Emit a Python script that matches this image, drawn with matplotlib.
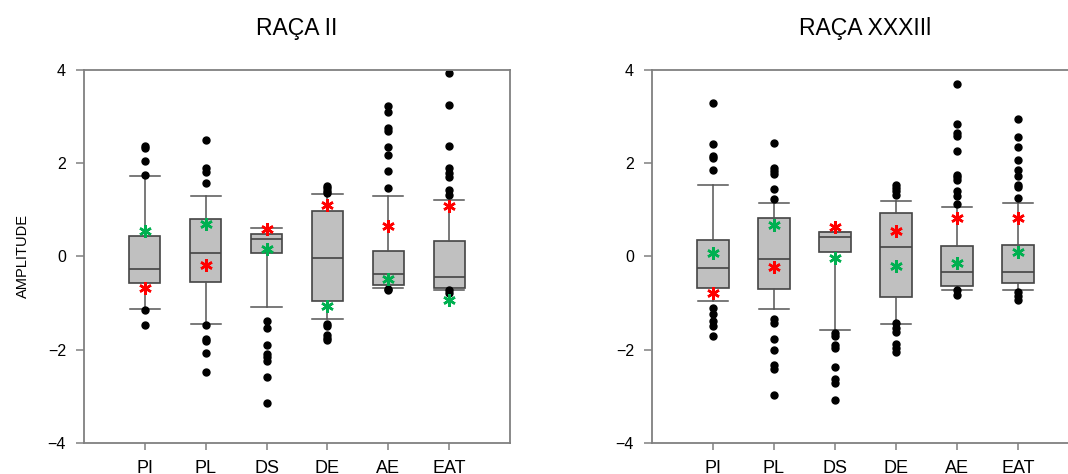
import matplotlib
matplotlib.use("Agg")
import matplotlib.pyplot as plt

plt.rcParams['font.family'] = ['Liberation Sans', 'DejaVu Sans']

categories = ['PI', 'PL', 'DS', 'DE', 'AE', 'EAT']

# RAÇA II
ii_q1 = [-0.57, -0.55, 0.06, -0.95, -0.61, -0.68]
ii_med = [-0.28, 0.06, 0.37, -0.04, -0.39, -0.44]
ii_q3 = [0.44, 0.80, 0.48, 0.96, 0.11, 0.32]
ii_whislo = [-1.14, -1.46, -1.08, -1.34, -0.68, -0.73]
ii_whishi = [1.72, 1.28, 0.60, 1.33, 1.30, 1.20]
ii_fliers = [
	[2.37, 2.32, 2.03, 1.73, -1.15, -1.48],
	[2.48, 1.88, 1.80, 1.57, -1.48, -1.77, -1.82, -2.07, -2.47],
	[-1.39, -1.53, -1.90, -2.10, -2.16, -2.25, -2.58, -3.15],
	[1.51, 1.46, 1.40, 1.35, -1.45, -1.50, -1.68, -1.75, -1.80],
	[3.21, 3.10, 2.74, 2.69, 2.35, 2.16, 1.83, 1.47, -0.70, -0.73],
	[3.93, 3.24, 2.37, 1.88, 1.78, 1.70, 1.41, 1.32, -0.73, -0.78],
]
ii_red = [-0.68, -0.19, 0.58, 1.09, 0.64, 1.08]
ii_green = [0.54, 0.70, 0.15, -1.06, -0.48, -0.94]

# RAÇA XXXIII
xxxiii_q1 = [-0.68, -0.71, 0.09, -0.88, -0.64, -0.58]
xxxiii_med = [-0.25, -0.06, 0.41, 0.20, -0.34, -0.34]
xxxiii_q3 = [0.34, 0.81, 0.51, 0.93, 0.21, 0.24]
xxxiii_whislo = [-0.96, -1.14, -1.57, -1.45, -0.73, -0.73]
xxxiii_whishi = [1.52, 1.14, 0.51, 1.19, 1.06, 1.13]
xxxiii_fliers = [
	[3.29, 2.41, 2.14, 2.10, 1.85, -1.11, -1.23, -1.39, -1.50, -1.71],
	[2.42, 1.88, 1.83, 1.77, 1.45, 1.23, -1.34, -1.44, -1.77, -2.00, -2.32, -2.41, -2.97],
	[-1.65, -1.71, -1.91, -1.97, -2.38, -2.62, -2.71, -3.07],
	[1.53, 1.46, 1.39, 1.32, -1.43, -1.53, -1.63, -1.87, -1.96, -2.05],
	[3.69, 2.84, 2.65, 2.57, 2.25, 1.75, 1.70, 1.64, 1.40, 1.28, 1.11, -0.73, -0.82],
	[2.94, 2.56, 2.33, 2.07, 1.85, 1.71, 1.53, 1.48, 1.25, -0.77, -0.86, -0.93],
]
xxxiii_red = [-0.78, -0.22, 0.63, 0.55, 0.82, 0.82]
xxxiii_green = [0.06, 0.68, -0.03, -0.21, -0.14, 0.10]

spineGray = '#808080'
starMarker = (6, 2, 0)


def buildStats(q1, med, q3, lo, hi, fliers):
	stats = []
	for i, name in enumerate(categories):
		stats.append(dict(label=name, q1=q1[i], med=med[i], q3=q3[i],
			whislo=lo[i], whishi=hi[i], fliers=fliers[i]))
	return stats


def drawPanel(ax, title, stats, red, green):
	pos = list(range(1, len(categories) + 1))
	ax.bxp(stats, positions=pos, widths=0.51, patch_artist=True,
		boxprops=dict(facecolor='#c0c0c0', edgecolor='#444444', linewidth=1.2),
		medianprops=dict(color='#444444', linewidth=1.2),
		whiskerprops=dict(color='#555555', linewidth=1.1),
		capprops=dict(color='#555555', linewidth=1.1),
		capwidths=0.5,
		flierprops=dict(marker='o', markerfacecolor='black', markeredgecolor='black',
			markersize=5, linestyle='none'))
	ax.plot(pos, red, linestyle='none', marker=starMarker, color='#ff0000',
		markersize=9, markeredgewidth=1.8, zorder=5)
	ax.plot(pos, green, linestyle='none', marker=starMarker, color='#00b050',
		markersize=9, markeredgewidth=1.8, zorder=5)
	ax.set_xlim(0, 7)
	ax.set_ylim(-4, 4)
	ax.set_yticks([-4, -2, 0, 2, 4])
	ax.set_xticks(pos)
	ax.set_xticklabels(categories, fontsize=13)
	ax.tick_params(axis='y', labelsize=11.5, length=6, width=1.1, color=spineGray, pad=7)
	ax.tick_params(axis='x', length=5, width=1.1, color=spineGray, pad=7)
	for s in ax.spines.values():
		s.set_color(spineGray)
		s.set_linewidth(1.3)
	ax.set_title(title, fontsize=16.5, pad=25)


fig = plt.figure(figsize=(10.68, 4.74), dpi=100)
axLeft = fig.add_axes([84 / 1068, 31 / 474, 426 / 1068, 373.5 / 474])
axRight = fig.add_axes([652 / 1068, 31 / 474, 427 / 1068, 373.5 / 474])

drawPanel(axLeft, 'RAÇA II',
	buildStats(ii_q1, ii_med, ii_q3, ii_whislo, ii_whishi, ii_fliers), ii_red, ii_green)
drawPanel(axRight, 'RAÇA XXXIIl',
	buildStats(xxxiii_q1, xxxiii_med, xxxiii_q3, xxxiii_whislo, xxxiii_whishi, xxxiii_fliers),
	xxxiii_red, xxxiii_green)

axLeft.set_ylabel('AMPLITUDE', fontsize=10.5, labelpad=13)

fig.savefig('out.png', dpi=100)
